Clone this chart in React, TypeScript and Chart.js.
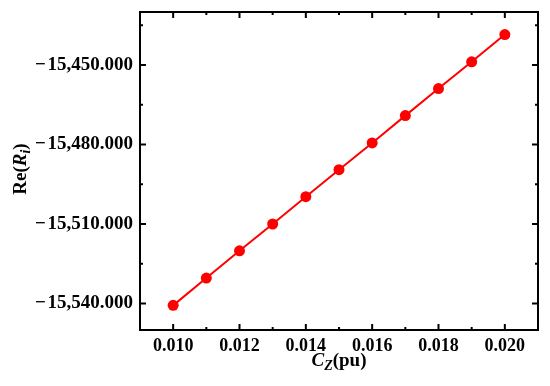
import React, { useEffect, useRef } from 'react';
import { Chart, registerables } from 'chart.js';
Chart.register(...registerables);

const cz = [0.010, 0.011, 0.012, 0.013, 0.014, 0.015, 0.016, 0.017, 0.018, 0.019, 0.020];
const reR = [-15540.7, -15530.4, -15520.1, -15510.0, -15499.7, -15489.5, -15479.4, -15469.1, -15458.9, -15448.8, -15438.5];

const xTickValues = [0.010, 0.012, 0.014, 0.016, 0.018, 0.020];
const xTickLabels = ['0.010', '0.012', '0.014', '0.016', '0.018', '0.020'];
const xMinorValues = [0.011, 0.013, 0.015, 0.017, 0.019];
const yTickValues = [-15540, -15510, -15480, -15450];
const yTickLabels = ['\u2212\u200A15,540.000', '\u2212\u200A15,510.000', '\u2212\u200A15,480.000', '\u2212\u200A15,450.000'];
const yMinorValues = [-15525, -15495, -15465, -15435];

const SERIF = '"Liberation Serif", "Times New Roman", serif';

function drawParts(ctx: CanvasRenderingContext2D, parts: { t: string; f: string; dy?: number }[], cx: number, cy: number) {
  let total = 0;
  for (const p of parts) { ctx.font = p.f; total += ctx.measureText(p.t).width; }
  let x = cx - total / 2;
  ctx.textBaseline = 'alphabetic';
  ctx.textAlign = 'left';
  for (const p of parts) {
    ctx.font = p.f;
    ctx.fillText(p.t, x, cy + (p.dy || 0));
    x += ctx.measureText(p.t).width;
  }
}

const framePlugin = {
  id: 'frame',
  afterDraw(chart: any) {
    const { ctx, chartArea: a, scales } = chart;
    const xs = scales.x, ys = scales.y;
    ctx.save();
    ctx.strokeStyle = '#000';
    ctx.lineWidth = 2;
    ctx.strokeRect(a.left, a.top, a.right - a.left, a.bottom - a.top);
    const tick = (vals: number[], len: number) => {
      for (const v of vals) {
        const px = xs.getPixelForValue(v);
        ctx.beginPath();
        ctx.moveTo(px, a.bottom); ctx.lineTo(px, a.bottom - len);
        ctx.moveTo(px, a.top); ctx.lineTo(px, a.top + len);
        ctx.stroke();
      }
    };
    const ytick = (vals: number[], len: number) => {
      for (const v of vals) {
        const py = ys.getPixelForValue(v);
        ctx.beginPath();
        ctx.moveTo(a.left, py); ctx.lineTo(a.left + len, py);
        ctx.moveTo(a.right, py); ctx.lineTo(a.right - len, py);
        ctx.stroke();
      }
    };
    tick(xTickValues, 6); tick(xMinorValues, 3);
    ytick(yTickValues, 6); ytick(yMinorValues, 3);

    ctx.fillStyle = '#000';
    const cxMid = (a.left + a.right) / 2;
    drawParts(ctx, [
      { t: 'C', f: `italic bold 19px ${SERIF}` },
      { t: 'Z', f: `italic bold 14px ${SERIF}`, dy: 4 },
      { t: '(pu)', f: `bold 19px ${SERIF}` },
    ], cxMid, 366);
    ctx.save();
    ctx.translate(20, (a.top + a.bottom) / 2 - 2);
    ctx.rotate(-Math.PI / 2);
    drawParts(ctx, [
      { t: 'Re(', f: `bold 19px ${SERIF}` },
      { t: 'R', f: `italic bold 19px ${SERIF}` },
      { t: 'i', f: `italic bold 14px ${SERIF}`, dy: 4 },
      { t: ')', f: `bold 19px ${SERIF}` },
    ], 0, 6);
    ctx.restore();
    ctx.restore();
  },
};

export default function App() {
  const ref = useRef<HTMLCanvasElement>(null);
  useEffect(() => {
    document.body.style.margin = '0';
    const chart = new Chart(ref.current!, {
      type: 'line',
      data: {
        datasets: [{
          data: cz.map((x, i) => ({ x, y: reR[i] })),
          borderColor: '#ff0000',
          backgroundColor: '#ff0000',
          borderWidth: 2,
          pointRadius: 5.5,
          pointBorderWidth: 0,
          pointBackgroundColor: '#ff0000',
          tension: 0,
        }],
      },
      options: {
        responsive: false,
        animation: false,
        layout: { padding: { top: 12, right: 12, left: 0, bottom: 0 } },
        plugins: { legend: { display: false }, tooltip: { enabled: false } },
        scales: {
          x: {
            type: 'linear', min: 0.009, max: 0.021,
            grid: { display: false, drawTicks: false },
            border: { display: false },
            afterBuildTicks: (s: any) => { s.ticks = xTickValues.map(v => ({ value: v })); },
            afterFit: (s: any) => { s.height = 56; s.paddingLeft = 0; s.paddingRight = 0; },
            ticks: {
              padding: 6, color: '#000',
              font: { family: SERIF, size: 18, weight: 'bold' },
              callback: (v: any) => { const i = xTickValues.findIndex(t => Math.abs(t - v) < 1e-9); return i >= 0 ? xTickLabels[i] : ''; },
              maxRotation: 0, autoSkip: false,
            },
          },
          y: {
            type: 'linear', min: -15550, max: -15430,
            grid: { display: false, drawTicks: false },
            border: { display: false },
            afterBuildTicks: (s: any) => { s.ticks = yTickValues.map(v => ({ value: v })); },
            afterFit: (s: any) => { s.width = 140; s.paddingTop = 0; s.paddingBottom = 0; },
            ticks: {
              padding: 7, color: '#000',
              font: { family: SERIF, size: 19, weight: 'bold' },
              callback: (v: any) => { const i = yTickValues.findIndex(t => Math.abs(t - v) < 1e-6); return i >= 0 ? yTickLabels[i] : ''; },
              autoSkip: false,
            },
          },
        },
      },
      plugins: [framePlugin],
    } as any);
    return () => chart.destroy();
  }, []);
  return <canvas ref={ref} width={550} height={386} style={{ display: 'block' }} />;
}
